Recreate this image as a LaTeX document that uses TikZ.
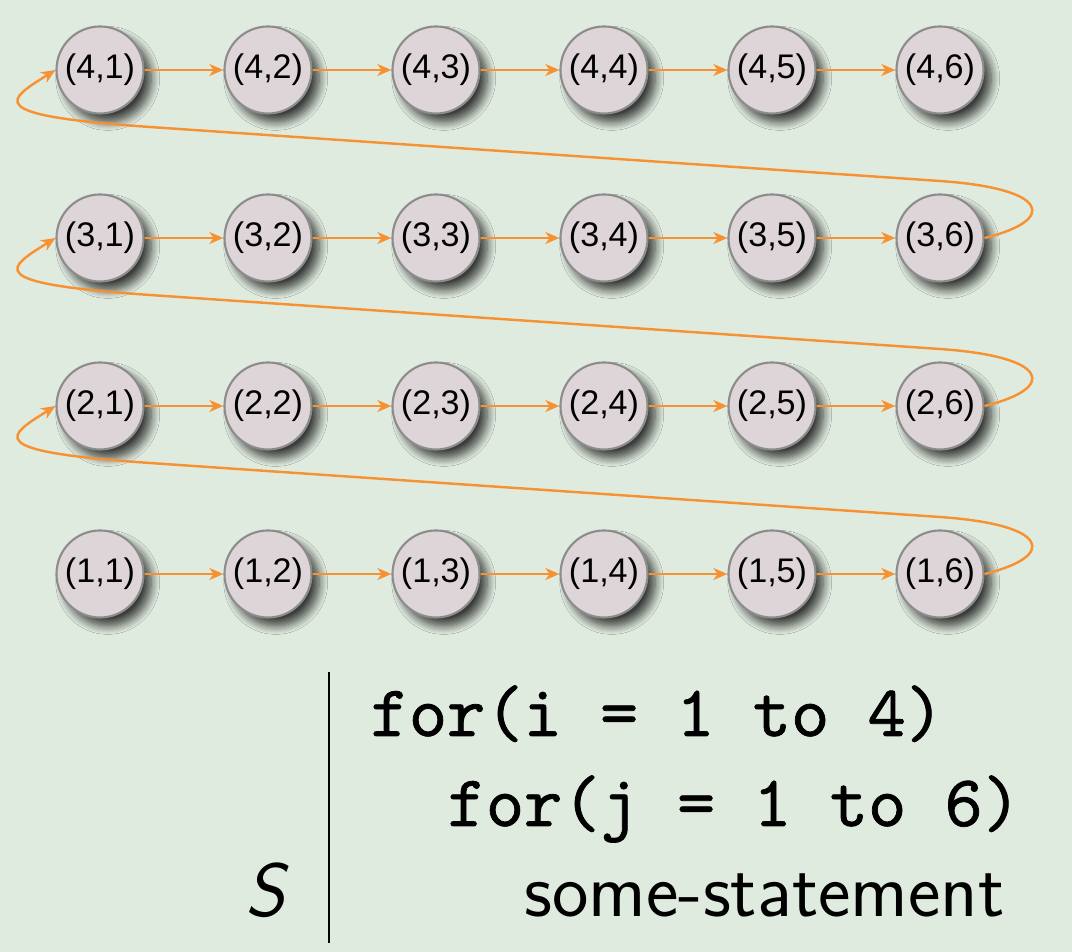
\documentclass[tikz,border=0pt]{standalone}
\usepackage{fontspec}
\usetikzlibrary{arrows.meta,shadows.blur,calc}
\newfontfamily\nodefont{Liberation Sans}
\newfontfamily\codefont{lmmono10-regular.otf}[FakeBold=1]
\definecolor{bggreen}{RGB}{224,235,224}
\definecolor{cellfill}{RGB}{221,213,215}
\definecolor{cellline}{RGB}{140,140,140}
\definecolor{flow}{RGB}{247,146,50}

\tikzset{
  cell/.style={circle,draw=cellline,line width=0.6pt,fill=cellfill,
    minimum size=0.87cm,inner sep=0pt,
    font=\nodefont\fontsize{9.7}{11}\selectfont,
    blur shadow={shadow xshift=2.2pt,shadow yshift=-2.4pt,
      shadow blur radius=2.4pt,shadow blur steps=10,shadow opacity=75}},
  next/.style={draw=flow,line width=0.7pt,-{Stealth[length=4pt,width=3.4pt,inset=1.2pt]}},
  code/.style={anchor=base west,inner sep=0pt,
    font=\codefont\fontsize{20.7}{24}\selectfont},
}

\begin{document}
\begin{tikzpicture}[x=0.01cm,y=-0.01cm]
    \fill[bggreen] (0,0) rectangle (1072,952);
    \useasboundingbox (0,0) rectangle (1072,952);

    %% the grid of iterations
    \foreach \i in {1,...,4}
      \foreach \j in {1,...,6}
        \node[cell] (n\i\j) at ({100+168*(\j-1)},{70+168*(4-\i)}) {(\i,\j)};

    %% inner loop
    \foreach \i in {1,...,4}
      \foreach \j/\k in {1/2,2/3,3/4,4/5,5/6}
        \draw[next] (n\i\j) -- (n\i\k);
    %% outer loop
    \foreach \i/\k in {1/2,2/3,3/4}
      \draw[next] (n\i6.east) .. controls +(73,-18) and +(110,7.5) .. ($(n\i6)+(0,-57)$)
        -- ($(n\k1)+(50,57)$) .. controls +(-170,-11.6) and +(-48,30) .. (n\k1.west);

    %% the loop nest
    \coordinate (bartop) at (329,672);
    \coordinate (barbot) at (329,943);
    \draw[line width=0.7pt] (bartop) -- (barbot);
    \node[code] (outer) at (370,736) {for(i = 1 to 4)};
    \node[code] (inner) at (447,826) {for(j = 1 to 6)};
    \node[anchor=base west,inner sep=0pt,font=\sffamily\fontsize{22}{26}\selectfont] (body) at (524,916) {some-statement};
    \node[anchor=base east,inner sep=0pt,font=\sffamily\itshape\fontsize{21.5}{26}\selectfont] (stmt) at (286,917) {S};
  \end{tikzpicture}
\end{document}
